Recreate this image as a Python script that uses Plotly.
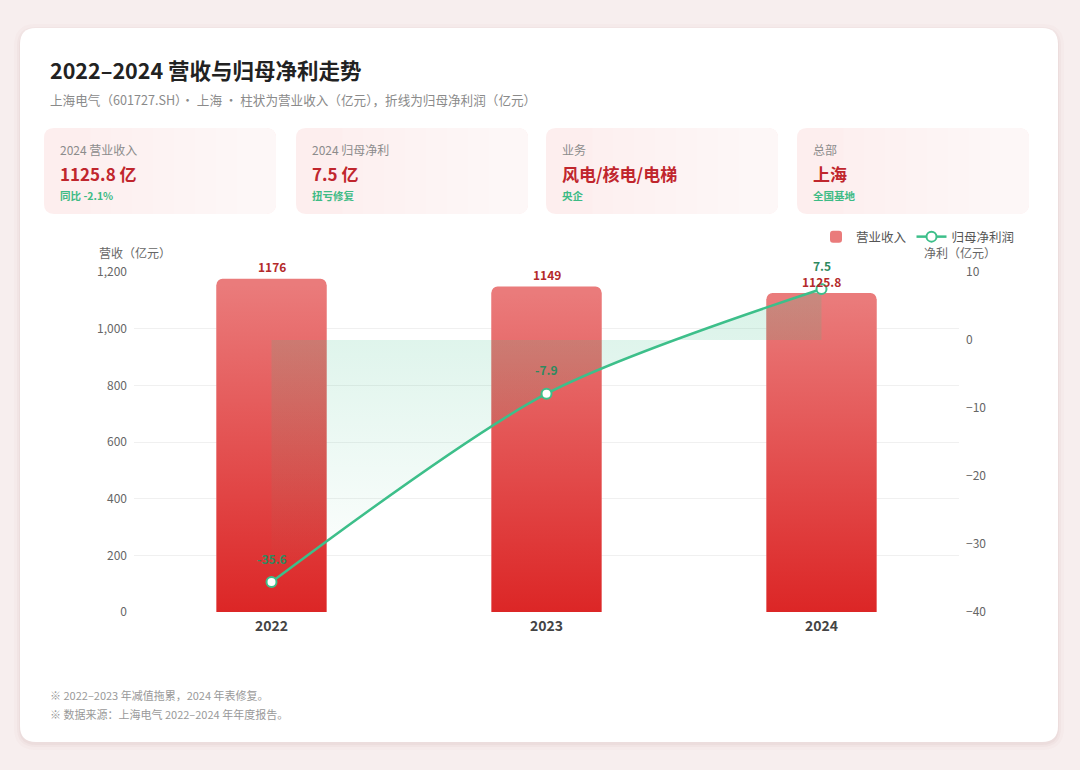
import plotly.graph_objects as go

# data
years = ["2022", "2023", "2024"]
revenue = [1176, 1149, 1125.8]          # 营业收入（亿元）
net_profit = [-35.6, -7.9, 7.5]          # 归母净利润（亿元）
revenue_labels = ["1176", "1149", "1125.8"]
profit_labels = ["-35.6", "-7.9", "7.5"]

kpi_titles = ["2024 营业收入", "2024 归母净利", "业务", "总部"]
kpi_values = ["1125.8 亿", "7.5 亿", "风电/核电/电梯", "上海"]
kpi_notes = ["同比 -2.1%", "扭亏修复", "央企", "全国基地"]

FONT = "Noto Sans CJK SC, Noto Sans, sans-serif"
GREEN = "#3dbf8a"
PAGE_BG = "#f7eeee"
BAR_TOP = "#ea7b7b"
BAR_BOTTOM = "#dc2626"

# plot area in pixels
L, R, T, B = 134, 959, 272, 612
W, H = R - L, B - T
BAR_W = 0.4
Y1_MAX = 1200


def px(x):
    return (x - L) / W


def py(y):
    return (B - y) / H


def rrect(x0, y0, x1, y1, r, rl=None):
    rl = r if rl is None else rl
    pts = [
        ("M", x0 + rl, y0), ("L", x1 - r, y0), ("Q", x1, y0), ("", x1, y0 + r),
        ("L", x1, y1 - r), ("Q", x1, y1), ("", x1 - r, y1),
        ("L", x0 + rl, y1), ("Q", x0, y1), ("", x0, y1 - rl),
        ("L", x0, y0 + rl), ("Q", x0, y0), ("", x0 + rl, y0),
    ]
    return " ".join(f"{c} {px(a):.5f},{py(b):.5f}" for c, a, b in pts) + " Z"


fig = go.Figure()

# real bars (rounded top, top colour) + gradient body drawn over them
fig.add_trace(go.Bar(
    x=[0, 1, 2], y=revenue, width=BAR_W, name="营业收入",
    marker=dict(color=BAR_TOP, cornerradius=6, line=dict(width=0)),
    hoverinfo="skip",
))
cap = 6 / H * Y1_MAX  # leave the rounded cap of the bar visible
for i, v in enumerate(revenue):
    top = v - cap
    fig.add_trace(go.Scatter(
        x=[i - BAR_W / 2, i - BAR_W / 2, i + BAR_W / 2, i + BAR_W / 2, i - BAR_W / 2],
        y=[0, top, top, 0, 0],
        mode="lines", fill="toself", line=dict(width=0),
        fillcolor="#e24a4a",
        fillgradient=dict(type="vertical",
                          colorscale=[[0, BAR_BOTTOM], [1, BAR_TOP]]),
        showlegend=False, hoverinfo="skip",
    ))

# profit area + line
fig.add_trace(go.Scatter(
    x=[0, 1, 2], y=net_profit, yaxis="y2", mode="lines",
    line=dict(width=0, shape="spline", smoothing=0.8),
    fill="tozeroy", fillcolor="rgba(61,191,138,0.12)",
    fillgradient=dict(type="vertical",
                      colorscale=[[0, "rgba(61,191,138,0.0)"],
                                  [1, "rgba(61,191,138,0.2)"]]),
    showlegend=False, hoverinfo="skip",
))
fig.add_trace(go.Scatter(
    x=[0, 1, 2], y=net_profit, yaxis="y2", mode="lines+markers",
    name="归母净利润",
    line=dict(color=GREEN, width=2.5, shape="spline", smoothing=0.8),
    marker=dict(size=10, color="white", line=dict(color=GREEN, width=2)),
))

shapes = []
# card shadow + white card
for grow, alpha in [(6, 0.025), (3, 0.035), (1, 0.05)]:
    shapes.append(dict(type="path", xref="paper", yref="paper", layer="below",
                       path=rrect(20 - grow, 28 - grow + 2, 1058 + grow, 742 + grow + 2, 16 + grow),
                       fillcolor=f"rgba(150,90,90,{alpha})", line=dict(width=0)))
shapes.append(dict(type="path", xref="paper", yref="paper", layer="below",
                   path=rrect(20, 28, 1058, 742, 16),
                   fillcolor="white", line=dict(width=0)))

annotations = [
    dict(text="<b>2022–2024 营收与归母净利走势</b>", x=px(48), y=py(70),
         font=dict(size=21.5, color="#222222")),
    dict(text="上海电气（601727.SH）· 上海 · 柱状为营业收入（亿元），折线为归母净利润（亿元）",
         x=px(48), y=py(99), font=dict(size=12.6, color="#8a8a8a")),
    dict(text="营收（亿元）", x=px(97), y=py(252), font=dict(size=12, color="#666666")),
    dict(text="净利（亿元）", x=px(922), y=py(252), font=dict(size=12, color="#666666")),
    dict(text="※ 2022–2023 年减值拖累，2024 年表修复。", x=px(48), y=py(695),
         font=dict(size=11, color="#999999")),
    dict(text="※ 数据来源：上海电气 2022–2024 年年度报告。", x=px(48), y=py(714),
         font=dict(size=11, color="#999999")),
]

card_x = [44, 296, 546, 797]
card_w = 232
for cx, t, v, n in zip(card_x, kpi_titles, kpi_values, kpi_notes):
    shapes.append(dict(type="path", xref="paper", yref="paper", layer="below",
                       path=rrect(cx, 128, cx + card_w, 214, 10),
                       fillcolor="#fdeeee", line=dict(width=0)))
    # soft fade to white towards the right
    for k in range(8):
        x0 = cx + card_w * (0.2 + 0.09 * k)
        shapes.append(dict(type="path", xref="paper", yref="paper", layer="below",
                           path=rrect(x0, 128, cx + card_w, 214, 10, rl=0),
                           fillcolor="rgba(255,255,255,0.12)", line=dict(width=0)))
    annotations += [
        dict(text=t, x=px(cx + 14), y=py(149), font=dict(size=12, color="#8c8c8c")),
        dict(text=f"<b>{v}</b>", x=px(cx + 14), y=py(174), font=dict(size=17, color="#c0262d")),
        dict(text=f"<b>{n}</b>", x=px(cx + 14), y=py(196), font=dict(size=10.5, color="#3dbb85")),
    ]

for a in annotations:
    a.update(xref="paper", yref="paper", xanchor="left", yanchor="middle", showarrow=False)

# value labels, placed through the data axes
for i, (v, lab) in enumerate(zip(revenue, revenue_labels)):
    annotations.append(dict(x=i, y=v, xref="x", yref="y", text=f"<b>{lab}</b>",
                            showarrow=False, yshift=12, yanchor="middle",
                            font=dict(size=12, color="#b42a2a")))
for i, (v, lab) in enumerate(zip(net_profit, profit_labels)):
    annotations.append(dict(x=i, y=v, xref="x", yref="y2", text=f"<b>{lab}</b>",
                            showarrow=False, yshift=24, yanchor="middle",
                            font=dict(size=12, color="#2e8a60")))

fig.update_layout(
    width=1080, height=770,
    margin=dict(l=L, r=1080 - R, t=T, b=770 - B),
    paper_bgcolor=PAGE_BG, plot_bgcolor="rgba(0,0,0,0)",
    font=dict(family=FONT, color="#555555"),
    xaxis=dict(range=[-0.5, 2.5], tickvals=[0, 1, 2], ticktext=years,
               showgrid=False, zeroline=False, showline=False, ticks="",
               ticklabelstandoff=4,
               tickfont=dict(size=14, color="#444444", weight="bold")),
    yaxis=dict(range=[0, Y1_MAX], dtick=200, tickformat=",", gridcolor="#f0f0f0",
               zeroline=False, showline=False, ticks="", ticklabelstandoff=6,
               tickfont=dict(size=12, color="#666666")),
    yaxis2=dict(range=[-40, 10], dtick=10, overlaying="y", side="right",
                showgrid=False, zeroline=False, showline=False, ticks="",
                ticklabelstandoff=6, tickfont=dict(size=12, color="#666666")),
    legend=dict(orientation="h", x=px(1020), xanchor="right", y=py(237), yanchor="middle",
                font=dict(size=12.5, color="#555555"), bgcolor="rgba(0,0,0,0)",
                traceorder="normal"),
    shapes=shapes, annotations=annotations,
    hovermode=False,
)

fig.write_html(
    "out.html",
    config={"displayModeBar": False},
    post_script=f"document.body.style.margin='0';document.body.style.background='{PAGE_BG}';",
)
